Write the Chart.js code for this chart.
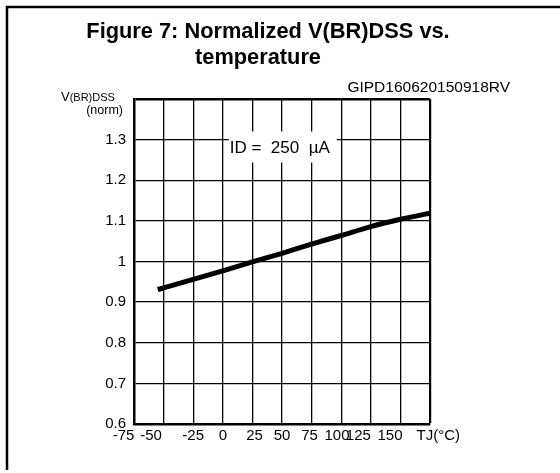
<!DOCTYPE html>
<html>
<head>
<meta charset="utf-8">
<script src="https://cdn.jsdelivr.net/npm/chart.js@4/dist/chart.umd.min.js"></script>
<style>
html,body{margin:0;padding:0;background:#fff;}
#wrap{width:560px;height:473px;position:relative;}
</style>
</head>
<body>
<div id="wrap"><canvas id="c"></canvas></div>
<script>
// Data
const temps = [-55, -50, -25, 0, 25, 50, 75, 100, 125, 150, 175];
const vbrNorm = [0.931, 0.935, 0.956, 0.977, 0.999, 1.020, 1.043, 1.064, 1.086, 1.104, 1.119];
const xTickValues = [-75, -50, -25, 0, 25, 50, 75, 100, 125, 150, 175];
const xTickLabels = ['-75     ', '-50      ', '-25', '0', ' 25', '50', '75 ', '100  ', '125      ', '150     ', '    TJ(°C)'];
const yTickValues = [0.6, 0.7, 0.8, 0.9, 1.0, 1.1, 1.2, 1.3, 1.4];
const yTickLabels = ['0.6', '0.7', '0.8', '0.9', '1', '1.1', '1.2', '1.3', ''];
const titleLines = ['Figure 7: Normalized V(BR)DSS vs.', 'temperature'];
const figCode = 'GIPD160620150918RV';
const annotationText = 'ID =  250  µA';

const FONT = "'Liberation Sans', Arial, sans-serif";

const decor = {
  id: 'decor',
  beforeDraw(chart) {
    const c = chart.ctx;
    c.save();
    c.fillStyle = '#fff';
    c.fillRect(0, 0, chart.width, chart.height);
    c.strokeStyle = '#000';
    c.lineWidth = 2.5;
    c.beginPath();
    c.moveTo(5.8, 7);
    c.lineTo(560, 7);
    c.moveTo(7, 7);
    c.lineTo(7, 470);
    c.stroke();
    c.restore();
  },
  afterDraw(chart) {
    const c = chart.ctx;
    const xs = chart.scales.x, ys = chart.scales.y;
    c.save();
    c.fillStyle = '#000';
    // Title
    c.font = "bold 21.8px " + FONT;
    c.textAlign = 'center';
    c.textBaseline = 'alphabetic';
    c.fillText(titleLines[0], 268, 38);
    c.fillText(titleLines[1], 258, 64);
    // figure code
    c.font = "15.5px " + FONT;
    c.textAlign = 'right';
    c.fillText(figCode, 510, 92);
    // y axis title
    c.textAlign = 'left';
    c.font = "13px " + FONT;
    c.fillText('V', 61, 101);
    const vw = c.measureText('V').width;
    c.font = "11px " + FONT;
    c.fillText('(BR)DSS', 61 + vw, 101);
    c.textAlign = 'right';
    c.font = "12.5px " + FONT;
    c.fillText('(norm)', 123, 114);
    // annotation box
    const bx = xs.getPixelForValue(5), by = ys.getPixelForValue(1.32);
    c.fillStyle = '#fff';
    c.fillRect(bx, by, 108, 31);
    c.fillStyle = '#000';
    c.textAlign = 'left';
    c.font = "17px " + FONT;
    c.fillText(annotationText, bx + 1, by + 21);
    c.restore();
  }
};

new Chart(document.getElementById('c'), {
  type: 'line',
  data: {
    datasets: [{
      data: temps.map((t, i) => ({x: t, y: vbrNorm[i]})),
      borderColor: '#000',
      borderWidth: 5,
      pointRadius: 0,
      fill: false,
      tension: 0.2,
      borderCapStyle: 'butt'
    }]
  },
  options: {
    responsive: true,
    maintainAspectRatio: false,
    animation: false,
    devicePixelRatio: 1,
    layout: {padding: {left: 0, top: 99, right: 130, bottom: 0}},
    plugins: {legend: {display: false}, tooltip: {enabled: false}, title: {display: false}},
    scales: {
      x: {
        type: 'linear',
        min: -75, max: 175,
        afterFit(s) { s.height = 49; },
        afterBuildTicks(s) { s.ticks = xTickValues.map(v => ({value: v})); },
        ticks: {
          autoSkip: false,
          maxRotation: 0,
          padding: 3,
          color: '#000',
          font: {family: FONT, size: 15},
          callback: (v) => { const i = xTickValues.indexOf(v); return i >= 0 ? xTickLabels[i] : ''; }
        },
        grid: {
          color: '#000',
          lineWidth: (ctx) => (ctx.tick && ctx.tick.value === 175) ? 2.2 : 1.3,
          drawTicks: false
        },
        border: {color: '#000', width: 2.5}
      },
      y: {
        type: 'linear',
        min: 0.6, max: 1.4,
        afterFit(s) { s.width = 134; },
        afterBuildTicks(s) { s.ticks = yTickValues.map(v => ({value: v})); },
        ticks: {
          autoSkip: false,
          padding: 8,
          color: '#000',
          font: {family: FONT, size: 15},
          callback: (v) => { const i = yTickValues.findIndex(t => Math.abs(t - v) < 1e-6); return i >= 0 ? yTickLabels[i] : ''; }
        },
        grid: {
          color: '#000',
          lineWidth: (ctx) => (ctx.tick && Math.abs(ctx.tick.value - 1.4) < 1e-6) ? 2.5 : 1.3,
          drawTicks: false
        },
        border: {color: '#000', width: 2.5}
      }
    }
  },
  plugins: [decor]
});
</script>
</body>
</html>
